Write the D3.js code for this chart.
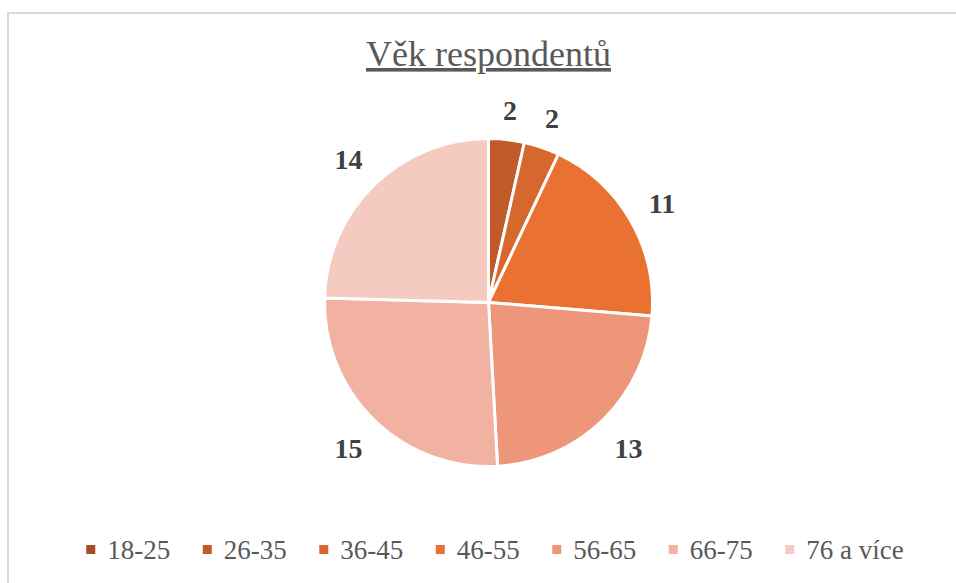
<!DOCTYPE html>
<html lang="cs">
<head>
<meta charset="utf-8">
<title>Věk respondentů</title>
<script src="https://d3js.org/d3.v7.min.js"></script>
<style>
  body { margin: 0; background: #fff; }
  svg { display: block; font-family: "Liberation Serif", "Times New Roman", serif; }
</style>
</head>
<body>
<svg width="956" height="583"></svg>
<script>
// data
var categories = ["18-25", "26-35", "36-45", "46-55", "56-65", "66-75", "76 a více"];
var counts = [0, 2, 2, 11, 13, 15, 14];
var colors = ["#A84E22", "#C05A27", "#D6672D", "#E97132", "#ED967A", "#F1B2A2", "#F5CAC0"];
var title = "Věk respondentů";

var svg = d3.select("svg");
var cx = 488.5, cy = 302.5, r = 164;

// frame (only top and left edge visible)
svg.append("path")
  .attr("d", "M8,583 V13 H956")
  .attr("fill", "none")
  .attr("stroke", "#d9d9d9")
  .attr("stroke-width", 2);

svg.append("text")
  .attr("x", cx).attr("y", 66)
  .attr("text-anchor", "middle")
  .attr("font-size", 36)
  .attr("fill", "#595959")
  .style("text-decoration", "underline")
  .text(title);

var data = categories.map(function(c, i) { return { name: c, value: counts[i], color: colors[i] }; });

var pie = d3.pie().sort(null).value(function(d) { return d.value; });
var arc = d3.arc().innerRadius(0).outerRadius(r);
var arcs = pie(data);

var g = svg.append("g").attr("transform", "translate(" + cx + "," + cy + ")");

g.selectAll("path.slice")
  .data(arcs.filter(function(d) { return d.data.value > 0; }))
  .enter().append("path")
  .attr("class", "slice")
  .attr("d", arc)
  .attr("fill", function(d) { return d.data.color; })
  .attr("stroke", "#fff")
  .attr("stroke-width", 3)
  .attr("stroke-linejoin", "round");

// labels outside the end
g.selectAll("text.lbl")
  .data(arcs.filter(function(d) { return d.data.value > 0; }))
  .enter().append("text")
  .attr("class", "lbl")
  .attr("text-anchor", "middle")
  .attr("font-size", 28)
  .attr("font-weight", "bold")
  .attr("fill", "#404040")
  .text(function(d) { return d.data.value; })
  .each(function(d) {
    var a = (d.startAngle + d.endAngle) / 2;
    var w = this.getComputedTextLength();
    var s = Math.sin(a), c = Math.cos(a);
    var dist = 184 + Math.abs(s) * w / 2 + Math.abs(c) * 10;
    d3.select(this)
      .attr("x", s * dist)
      .attr("y", -c * dist + 11);
  });

// legend
var legend = svg.append("g");
var x = 0;
data.forEach(function(d) {
  var item = legend.append("g").attr("transform", "translate(" + x + ",0)");
  item.append("rect")
    .attr("x", 0).attr("y", -14)
    .attr("width", 9).attr("height", 9)
    .attr("fill", d.color);
  var t = item.append("text")
    .attr("x", 21).attr("y", 0)
    .attr("font-size", 27)
    .attr("fill", "#595959")
    .text(d.name);
  x += 21 + t.node().getComputedTextLength() + 32.5;
});
var lw = x - 32.5;
legend.attr("transform", "translate(" + (495 - lw / 2) + ",559)");
</script>
</body>
</html>
